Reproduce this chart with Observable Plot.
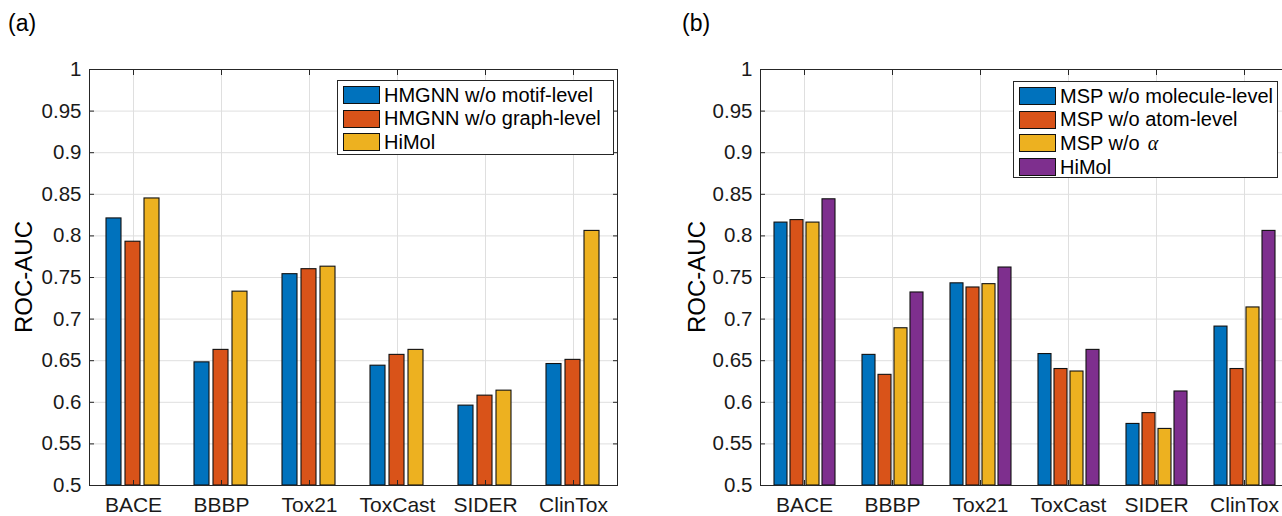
<!DOCTYPE html>
<html>
<head>
<meta charset="utf-8">
<script src="https://cdn.jsdelivr.net/npm/d3@7"></script>
<script src="https://cdn.jsdelivr.net/npm/@observablehq/plot@0.6"></script>
<style>
  html, body { margin: 0; padding: 0; background: #fff; overflow: hidden; }
  #root { position: relative; width: 1282px; height: 516px; overflow: hidden;
          font-family: "Liberation Sans", Arial, Helvetica, sans-serif; color: #000; }
  .panel { position: absolute; top: 0; }
  .tag { position: absolute; font-size: 23px; line-height: 1; color: #000; }
  .ylab { position: absolute; font-size: 24px; line-height: 1; color: #000;
          transform: translate(-50%, -50%) rotate(-90deg); white-space: nowrap; }
  .legend { position: absolute; box-sizing: border-box; border: 1px solid #262626; background: #fff; }
  .row { display: flex; align-items: center; height: 23.6px; font-size: 20px; white-space: nowrap; }
  .sw { width: 35px; height: 16px; border: 1px solid #111; margin-left: 5px; margin-right: 4px; flex: none; }
  .alpha { font-family: "Liberation Serif", "DejaVu Serif", serif; font-style: italic; margin-left: 8px; }
</style>
</head>
<body>
<div id="root">
  <div class="tag" style="left:8px; top:12px;">(a)</div>
  <div class="tag" style="left:682px; top:12px;">(b)</div>
  <div class="ylab" style="left:24px; top:277px;">ROC-AUC</div>
  <div class="ylab" style="left:697px; top:277px;">ROC-AUC</div>
</div>
<script>
// ---------- data ----------
const categories = ["BACE", "BBBP", "Tox21", "ToxCast", "SIDER", "ClinTox"];
const yTicks = [0.5, 0.55, 0.6, 0.65, 0.7, 0.75, 0.8, 0.85, 0.9, 0.95, 1];
const yBase = 0.5;

// panel (a)
const seriesA = ["HMGNN w/o motif-level", "HMGNN w/o graph-level", "HiMol"];
const hmgnnNoMotif = [0.821, 0.648, 0.754, 0.644, 0.596, 0.646];
const hmgnnNoGraph = [0.793, 0.663, 0.760, 0.657, 0.608, 0.651];
const himolA       = [0.845, 0.733, 0.763, 0.663, 0.614, 0.806];

// panel (b)
const seriesB = ["MSP w/o molecule-level", "MSP w/o atom-level", "MSP w/o α", "HiMol"];
const mspNoMolecule = [0.816, 0.657, 0.743, 0.658, 0.574, 0.691];
const mspNoAtom     = [0.819, 0.633, 0.738, 0.640, 0.587, 0.640];
const mspNoAlpha    = [0.816, 0.689, 0.742, 0.637, 0.568, 0.714];
const himolB        = [0.844, 0.732, 0.762, 0.663, 0.613, 0.806];

const colorsA = ["#0072BD", "#D95319", "#EDB120"];
const colorsB = ["#0072BD", "#D95319", "#EDB120", "#7E2F8E"];

// ---------- chart builder ----------
function buildRows(names, arrays) {
  const rows = [];
  categories.forEach((c, i) => names.forEach((s, j) => rows.push({category: c, series: s, value: arrays[j][i]})));
  return rows;
}

function chart({names, arrays, colors, width, marginLeft, marginRight, paddingInner, paddingOuter}) {
  const rows = buildRows(names, arrays);
  const axisColor = "#262626";
  return Plot.plot({
    width, height: 516,
    marginTop: 69, marginBottom: 31, marginLeft, marginRight,
    style: {fontFamily: '"Liberation Sans", Arial, Helvetica, sans-serif', fontSize: "20.5px", color: "#1a1a1a", background: "transparent", overflow: "visible"},
    fx: {domain: categories, paddingInner: 0, paddingOuter: 0, axis: null, label: null},
    x: {domain: names, paddingInner, paddingOuter, axis: null, label: null},
    y: {domain: [0.5, 1], axis: null, label: null},
    color: {domain: names, range: colors},
    marks: [
      Plot.gridY(yTicks, {stroke: "#dfdfdf", strokeOpacity: 1}),
      Plot.gridFx({stroke: "#dfdfdf", strokeOpacity: 1}),
      Plot.barY(rows, {fx: "category", x: "series", y1: yBase, y2: "value", fill: "series", stroke: "#111", strokeWidth: 1.1}),
      Plot.frame({facet: "super", stroke: axisColor}),
      Plot.axisY(yTicks, {anchor: "left", tickSize: -5, tickPadding: 13, stroke: axisColor, tickFormat: d => String(d), label: null}),
      Plot.axisY(yTicks, {anchor: "right", tickSize: -5, stroke: axisColor, tickFormat: () => "", label: null}),
      Plot.axisFx({anchor: "bottom", tickSize: -5, tickPadding: 17, stroke: axisColor, label: null, fontSize: "21px"}),
      Plot.axisFx({anchor: "top", tickSize: -5, stroke: axisColor, tickFormat: () => "", label: null})
    ]
  });
}

const root = document.getElementById("root");

const svgA = chart({names: seriesA, arrays: [hmgnnNoMotif, hmgnnNoGraph, himolA], colors: colorsA,
  width: 641, marginLeft: 88, marginRight: 23, paddingInner: 0.2, paddingOuter: 0.8075});
svgA.classList.add("panel");
svgA.style.left = "0px";
root.prepend(svgA);

const svgB = chart({names: seriesB, arrays: [mspNoMolecule, mspNoAtom, mspNoAlpha, himolB], colors: colorsB,
  width: 649, marginLeft: 119, marginRight: 2, paddingInner: 0.19, paddingOuter: 0.828});
svgB.classList.add("panel");
svgB.style.left = "641px";
root.prepend(svgB);

// ---------- legends (inside the axes, top-right) ----------
function legend(names, colors, left, top, width, height) {
  const box = document.createElement("div");
  box.className = "legend";
  Object.assign(box.style, {left: left + "px", top: top + "px", width: width + "px", height: height + "px", paddingTop: "2.5px"});
  names.forEach((n, i) => {
    const row = document.createElement("div");
    row.className = "row";
    const sw = document.createElement("div");
    sw.className = "sw";
    sw.style.background = colors[i];
    row.appendChild(sw);
    const t = document.createElement("span");
    if (n.endsWith("α")) {
      t.textContent = n.slice(0, -1).trimEnd();
      const a = document.createElement("span");
      a.className = "alpha";
      a.textContent = "α";
      t.appendChild(a);
    } else {
      t.textContent = n;
    }
    row.appendChild(t);
    box.appendChild(row);
  });
  root.appendChild(box);
}
legend(seriesA, colorsA, 337, 80, 277, 75);
legend(seriesB, colorsB, 1013, 81, 265, 97);
</script>
</body>
</html>
